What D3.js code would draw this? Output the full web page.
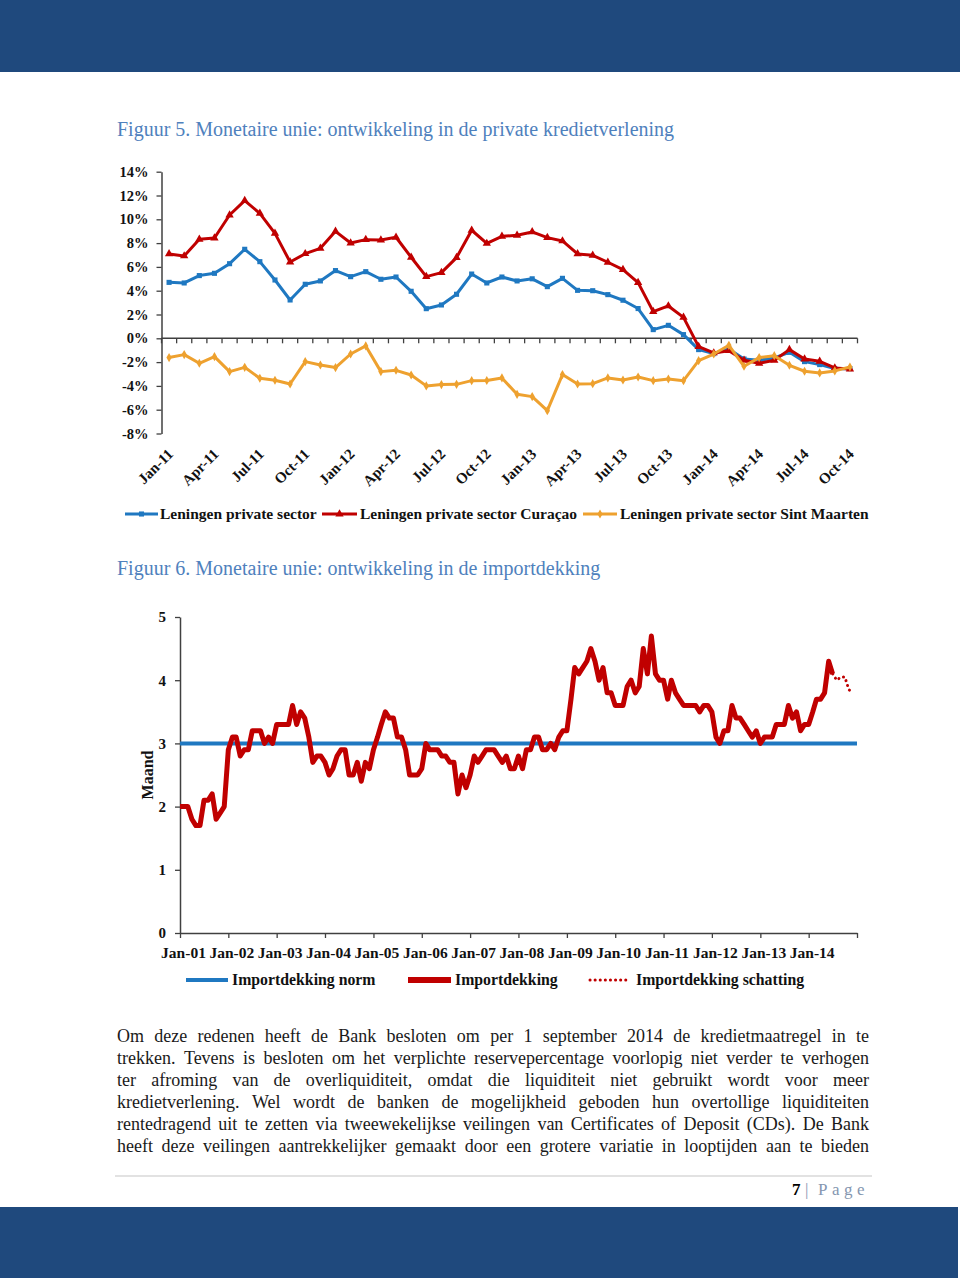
<!DOCTYPE html>
<html><head><meta charset="utf-8">
<script src="https://cdn.jsdelivr.net/npm/d3@7"></script>
<style>
html,body{margin:0;padding:0;background:#fff;}
svg{display:block;font-family:"Liberation Serif","Times New Roman",serif;}
</style></head><body>
<svg id="page" width="960" height="1285"></svg>
<script>
// ---------- Figuur 5 data ----------
const months5 = ["Jan-11","Feb-11","Mar-11","Apr-11","May-11","Jun-11","Jul-11","Aug-11","Sep-11","Oct-11","Nov-11","Dec-11",
"Jan-12","Feb-12","Mar-12","Apr-12","May-12","Jun-12","Jul-12","Aug-12","Sep-12","Oct-12","Nov-12","Dec-12",
"Jan-13","Feb-13","Mar-13","Apr-13","May-13","Jun-13","Jul-13","Aug-13","Sep-13","Oct-13","Nov-13","Dec-13",
"Jan-14","Feb-14","Mar-14","Apr-14","May-14","Jun-14","Jul-14","Aug-14","Sep-14","Oct-14"];
const tickLabels5 = ["Jan-11","Apr-11","Jul-11","Oct-11","Jan-12","Apr-12","Jul-12","Oct-12","Jan-13","Apr-13","Jul-13","Oct-13","Jan-14","Apr-14","Jul-14","Oct-14"];
const yTicks5 = [-8,-6,-4,-2,0,2,4,6,8,10,12,14];
const privateSector = [4.7,4.65,5.27,5.46,6.27,7.48,6.44,4.9,3.22,4.54,4.82,5.69,5.18,5.6,4.96,5.15,3.95,2.49,2.8,3.7,5.4,4.65,
5.15,4.82,5.0,4.34,5.04,4.03,4.0,3.67,3.2,2.5,0.73,1.09,0.31,-0.95,-1.29,-0.9,-1.74,-1.85,-1.65,-1.18,-1.96,-2.21,-2.55,-2.55];
const curacao = [7.09,6.92,8.32,8.43,10.36,11.57,10.5,8.82,6.41,7.11,7.56,8.99,8.01,8.29,8.26,8.49,6.81,5.18,5.52,6.78,9.08,7.97,
8.57,8.66,8.94,8.46,8.18,7.09,6.97,6.39,5.77,4.68,2.24,2.72,1.76,-0.7,-1.23,-1.04,-1.85,-2.1,-1.85,-0.95,-1.74,-1.93,-2.49,-2.58];
const sintMaarten = [-1.62,-1.37,-2.1,-1.54,-2.8,-2.44,-3.36,-3.53,-3.84,-1.96,-2.24,-2.46,-1.32,-0.64,-2.8,-2.69,-3.08,-4.0,-3.89,-3.87,-3.56,-3.55,
-3.33,-4.71,-4.9,-6.08,-3.05,-3.84,-3.81,-3.33,-3.5,-3.25,-3.56,-3.42,-3.56,-1.88,-1.32,-0.59,-2.35,-1.62,-1.46,-2.27,-2.77,-2.91,-2.74,-2.41];
const legend5 = ["Leningen private sector","Leningen private sector Curaçao","Leningen private sector Sint Maarten"];

// ---------- Figuur 6 data ----------
const xLabels6 = ["Jan-01","Jan-02","Jan-03","Jan-04","Jan-05","Jan-06","Jan-07","Jan-08","Jan-09","Jan-10","Jan-11","Jan-12","Jan-13","Jan-14",""];
const yTicks6 = [0,1,2,3,4,5];
const importStart = "2001-01"; // first month of the monthly series
const importdekking = [
2.0,2.0,2.0,1.8,1.7,1.7,2.1,2.1,2.2,1.8,1.9,2.0,
2.9,3.1,3.1,2.8,2.9,2.9,3.2,3.2,3.2,3.0,3.1,3.0,
3.3,3.3,3.3,3.3,3.6,3.3,3.5,3.4,3.1,2.7,2.8,2.8,
2.7,2.5,2.6,2.8,2.9,2.9,2.5,2.5,2.7,2.4,2.7,2.6,
2.9,3.1,3.3,3.5,3.4,3.4,3.1,3.1,2.9,2.5,2.5,2.5,
2.6,3.0,2.9,2.9,2.9,2.8,2.8,2.7,2.7,2.2,2.5,2.3,
2.5,2.8,2.7,2.8,2.9,2.9,2.9,2.8,2.7,2.8,2.6,2.6,
2.8,2.6,2.9,2.9,3.1,3.1,2.9,2.9,3.0,2.9,3.1,3.2,
3.2,3.7,4.2,4.1,4.2,4.3,4.5,4.3,4.0,4.2,3.8,3.8,
3.6,3.6,3.6,3.9,4.0,3.8,3.9,4.5,4.1,4.7,4.1,4.0,
4.0,3.7,4.0,3.8,3.7,3.6,3.6,3.6,3.6,3.5,3.6,3.6,
3.5,3.1,3.0,3.2,3.2,3.6,3.4,3.4,3.3,3.2,3.1,3.2,
3.0,3.1,3.1,3.1,3.3,3.3,3.3,3.6,3.4,3.5,3.2,3.3,
3.3,3.5,3.7,3.7,3.8,4.3,4.1];
const schattingStart = "2014-07";
const schatting = [4.1,4.0,4.05,4.05,3.85,3.8];
const normPeriod = ["2001-01","2015-01"];
const normValues = [3,3];
const legend6 = ["Importdekking norm","Importdekking","Importdekking schatting"];

// ---------- text ----------
const title5 = "Figuur 5. Monetaire unie: ontwikkeling in de private kredietverlening";
const title6 = "Figuur 6. Monetaire unie: ontwikkeling in de importdekking";
const yTitle6 = "Maand";
const paragraph = [
"Om deze redenen heeft de Bank besloten om per 1 september 2014 de kredietmaatregel in te",
"trekken. Tevens is besloten om het verplichte reservepercentage voorlopig niet verder te verhogen",
"ter afroming van de overliquiditeit, omdat die liquiditeit niet gebruikt wordt voor meer",
"kredietverlening. Wel wordt de banken de mogelijkheid geboden hun overtollige liquiditeiten",
"rentedragend uit te zetten via tweewekelijkse veilingen van Certificates of Deposit (CDs). De Bank",
"heeft deze veilingen aantrekkelijker gemaakt door een grotere variatie in looptijden aan te bieden"];

// ---------- page ----------
const svg = d3.select("#page");
const BAND = "#1f497d", TITLE = "#4f81bd";
const BLUE = "#1f78c1", RED = "#c00000", ORANGE = "#eea12f";
svg.append("rect").attr("x",0).attr("y",0).attr("width",960).attr("height",72).attr("fill",BAND);
svg.append("rect").attr("x",0).attr("y",1207).attr("width",958).attr("height",71).attr("fill",BAND);

svg.append("text").attr("x",117).attr("y",136).attr("font-size",20).attr("fill",TITLE).text(title5);
svg.append("text").attr("x",117).attr("y",575).attr("font-size",20).attr("fill",TITLE).text(title6);

// ---------- Figuur 5 chart ----------
const x5 = d3.scaleBand().domain(months5).range([161.5, 857.5]);
const y5 = d3.scaleLinear().domain([-8,14]).range([433.5, 171.7]);
const cx = d => x5(d) + x5.bandwidth()/2;
const g5 = svg.append("g");

const yAx5 = g5.append("g").attr("transform","translate(161.5,0)")
  .call(d3.axisLeft(y5).tickValues(yTicks5).tickFormat(d => d + "%").tickSize(5).tickSizeOuter(0).tickPadding(8));
yAx5.selectAll("text").attr("font-size",14.5).attr("font-weight","bold").attr("fill","#111").attr("font-family","Liberation Serif");
yAx5.selectAll("line").attr("stroke","#404040").attr("stroke-width",1.3);
yAx5.select(".domain").attr("stroke","#404040").attr("stroke-width",1.5);

// category axis at 0%
const zeroY = y5(0);
g5.append("line").attr("x1",x5.range()[0]).attr("x2",x5.range()[1]).attr("y1",zeroY).attr("y2",zeroY)
  .attr("stroke","#404040").attr("stroke-width",1.5);
g5.selectAll(".ctick").data(d3.range(months5.length + 1)).join("line")
  .attr("x1", i => x5.range()[0] + i * x5.step()).attr("x2", i => x5.range()[0] + i * x5.step())
  .attr("y1", zeroY).attr("y2", zeroY + 5).attr("stroke","#404040").attr("stroke-width",1.3);

g5.selectAll(".xlab").data(tickLabels5).join("text")
  .attr("transform", d => `translate(${cx(d) + 5},455) rotate(-45)`)
  .attr("text-anchor","end").attr("font-size",15).attr("font-weight","bold").attr("fill","#111")
  .text(d => d);

const series5 = [
  {vals: privateSector, color: BLUE, sym: d3.symbolSquare, size: 26},
  {vals: curacao, color: RED, sym: d3.symbolTriangle, size: 30},
  {vals: sintMaarten, color: ORANGE, sym: d3.symbolDiamond, size: 24}
];
const line5 = d3.line().x(d => cx(d.m)).y(d => y5(d.v));
series5.forEach(s => {
  const pts = months5.map((m,i) => ({m, v: s.vals[i]}));
  g5.append("path").datum(pts).attr("d", line5).attr("fill","none").attr("stroke", s.color)
    .attr("stroke-width",3).attr("stroke-linejoin","round");
  g5.selectAll(null).data(pts).join("path")
    .attr("transform", d => `translate(${cx(d.m)},${y5(d.v)})`)
    .attr("d", d3.symbol().type(s.sym).size(s.size)).attr("fill", s.color);
});

// legend 5
const leg5pos = [{x0:125,x1:158,tx:160},{x0:322,x1:357,tx:360},{x0:583,x1:617,tx:620}];
legend5.forEach((t,i) => {
  const p = leg5pos[i], s = series5[i], ly = 514;
  svg.append("line").attr("x1",p.x0).attr("x2",p.x1).attr("y1",ly).attr("y2",ly).attr("stroke",s.color).attr("stroke-width",3);
  svg.append("path").attr("transform",`translate(${(p.x0+p.x1)/2},${ly})`).attr("d",d3.symbol().type(s.sym).size(s.size)).attr("fill",s.color);
  svg.append("text").attr("x",p.tx).attr("y",ly+5).attr("font-size",15.5).attr("font-weight","bold").attr("fill","#111").text(t);
});

// ---------- Figuur 6 chart ----------
const parseM = d3.timeParse("%Y-%m");
const x6 = d3.scaleTime().domain([parseM("2001-01"), parseM("2015-01")]).range([180, 857]);
const y6 = d3.scaleLinear().domain([0,5]).range([933, 617]);
const g6 = svg.append("g");

const yAx6 = g6.append("g").attr("transform","translate(180,0)")
  .call(d3.axisLeft(y6).tickValues(yTicks6).tickFormat(d3.format("d")).tickSize(5).tickSizeOuter(0).tickPadding(9));
const yearTicks = d3.range(xLabels6.length).map(i => d3.timeYear.offset(parseM("2001-01"), i));
const xAx6 = g6.append("g").attr("transform","translate(0,933)")
  .call(d3.axisBottom(x6).tickValues(yearTicks).tickFormat((d,i) => xLabels6[i]).tickSize(5).tickSizeOuter(0).tickPadding(9));
[yAx6, xAx6].forEach(a => {
  a.selectAll("text").attr("font-size",15).attr("font-weight","bold").attr("fill","#111").attr("font-family","Liberation Serif");
  a.selectAll("line").attr("stroke","#404040").attr("stroke-width",1.3);
  a.select(".domain").attr("stroke","#404040").attr("stroke-width",1.5);
});
xAx6.selectAll("text").attr("font-size",15.5).attr("dx",3);

g6.append("text").attr("transform","translate(153,775) rotate(-90)").attr("text-anchor","middle")
  .attr("font-size",16).attr("font-weight","bold").attr("fill","#111").text(yTitle6);

const line6 = d3.line().x(d => x6(d.t)).y(d => y6(d.v));
const normPts = normPeriod.map((p,i) => ({t: parseM(p), v: normValues[i]}));
const actPts = importdekking.map((v,i) => ({t: d3.timeMonth.offset(parseM(importStart), i), v}));
const estPts = schatting.map((v,i) => ({t: d3.timeMonth.offset(parseM(schattingStart), i), v}));

g6.append("path").datum(normPts).attr("d", line6).attr("fill","none").attr("stroke",BLUE).attr("stroke-width",4);
g6.append("path").datum(actPts).attr("d", line6).attr("fill","none").attr("stroke",RED)
  .attr("stroke-width",5).attr("stroke-linejoin","round");
g6.append("path").datum(estPts).attr("d", line6).attr("fill","none").attr("stroke",RED)
  .attr("stroke-width",3).attr("stroke-linecap","round").attr("stroke-dasharray","0.1 5");

// legend 6
const leg6 = [
  {x0:186,x1:228,tx:232,w:4,dash:null},
  {x0:408,x1:451,tx:455,w:6,dash:null},
  {x0:590,x1:628,tx:636,w:3,dash:"0.1 5"}];
legend6.forEach((t,i) => {
  const p = leg6[i], ly = 980;
  const l = svg.append("line").attr("x1",p.x0).attr("x2",p.x1).attr("y1",ly).attr("y2",ly)
    .attr("stroke", i === 0 ? BLUE : RED).attr("stroke-width",p.w);
  if (p.dash) l.attr("stroke-dasharray",p.dash).attr("stroke-linecap","round");
  svg.append("text").attr("x",p.tx).attr("y",ly+5).attr("font-size",15.8).attr("font-weight","bold").attr("fill","#111").text(t);
});

// ---------- paragraph (justified) ----------
const PX0 = 117, PX1 = 869;
paragraph.forEach((ln,li) => {
  const y = 1042 + li * 22;
  const words = ln.split(" ");
  const g = svg.append("g");
  const nodes = words.map(w => g.append("text").attr("y",y).attr("font-size",18).attr("fill","#1a1a1a").text(w));
  const widths = nodes.map(n => n.node().getComputedTextLength());
  const total = d3.sum(widths);
  const gap = (PX1 - PX0 - total) / (words.length - 1);
  let x = PX0;
  nodes.forEach((n,i) => { n.attr("x", x); x += widths[i] + gap; });
});

// ---------- footer ----------
svg.append("line").attr("x1",115).attr("x2",872).attr("y1",1176).attr("y2",1176).attr("stroke","#d9d9d9").attr("stroke-width",1.5);
svg.append("text").attr("x",792).attr("y",1195).attr("font-size",17).attr("font-weight","bold").attr("fill","#000").text("7");
svg.append("text").attr("x",805).attr("y",1195).attr("font-size",17).attr("fill","#8496b0").text("|");
svg.append("text").attr("x",818).attr("y",1195).attr("font-size",17).attr("fill","#8496b0").attr("letter-spacing",4.5).text("Page");
</script>
</body></html>
